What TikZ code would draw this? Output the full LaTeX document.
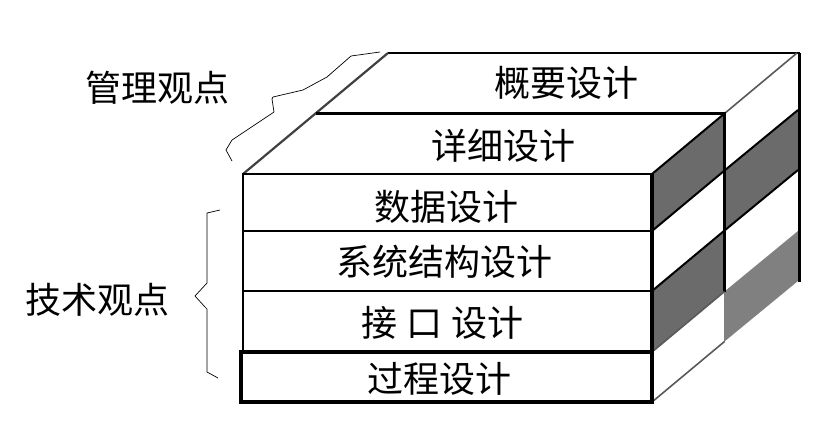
\documentclass[tikz,border=0pt]{standalone}
\usepackage{fontspec}
\newfontfamily\cjk{Noto Sans CJK SC}
\tikzset{
  lbl/.style={font=\cjk\fontsize{36}{40}\selectfont, inner sep=0pt},
  hatchface/.style={fill=black!58},
  solidface/.style={fill=black!50},
  edge/.style={line width=2.5pt, line join=miter},
  thinedge/.style={line width=1.6pt, draw=black!65},
  bracel/.style={line width=0.7pt, line join=round}
}
\begin{document}
\begin{tikzpicture}[x=1pt,y=-1pt]
\useasboundingbox (0,0) rectangle (835,445);

% ---- back box right face ----
\path[fill=white] (724.5,113.5) -- (798,53) -- (798,110) -- (724.5,170.5) -- cycle;
\path[hatchface] (724.5,170.5) -- (798,110) -- (798,170) -- (724.5,230.5) -- cycle;
\path[fill=white] (724.5,230.5) -- (798,170) -- (798,231) -- (724.5,291.5) -- cycle;
\path[solidface] (724.5,291.5) -- (798,231) -- (798,281) -- (724.5,341.5) -- cycle;

% ---- top face ----
\path[fill=white] (243,174) -- (652,174) -- (798,53) -- (388,53) -- cycle;

% ---- front box right face ----
\path[hatchface] (652,174) -- (724.5,113.5) -- (724.5,170.5) -- (652,231) -- cycle;
\path[fill=white] (652,231) -- (724.5,170.5) -- (724.5,230.5) -- (652,291) -- cycle;
\path[hatchface] (652,291) -- (724.5,230.5) -- (724.5,291.5) -- (652,352) -- cycle;
\path[fill=white] (652,352) -- (724.5,291.5) -- (724.5,341.5) -- (652,402) -- cycle;

% corner coordinates
\coordinate (TL) at (243,174);
\coordinate (TR) at (652,174);
\coordinate (TBL) at (388,53);
\coordinate (TBR) at (800,53);
\coordinate (MBL) at (315.5,113.5);
\coordinate (MBR) at (724.5,113.5);
\coordinate (BRtop) at (799,53);
\coordinate (BRbot) at (799,282);

% ---- edges ----
\draw[line width=2.8pt] (TBL) -- (TBR);
\draw[line width=3pt] (BRtop) -- (BRbot);
\draw[line width=2.2pt, draw=black!75] (TL) -- (TBL);
\draw[thinedge] (MBR) -- (797,53);
\draw[line width=2pt] (TR) -- (MBR);
\draw[line width=2.8pt] (MBL) -- (MBR) -- (724.5,291.5);
\draw[line width=0.6pt, draw=black!50] (724.5,291.5) -- (724.5,341.5);
% right face diagonals front box
\draw[line width=2pt] (652,231) -- (724.5,170.5);
\draw[line width=2pt] (652,291) -- (724.5,230.5);
\draw[thinedge] (652,352) -- (724.5,291.5);
\draw[thinedge] (652,402) -- (724.5,341.5);
% right face diagonals back box
\draw[line width=2pt] (724.5,170.5) -- (798,110);
\draw[line width=2pt] (724.5,230.5) -- (798,170);

% ---- front face ----
\draw[edge, fill=white] (243,174) rectangle (652,231);
\draw[edge, fill=white] (243,231) rectangle (652,291);
\draw[edge, fill=white] (243,291) rectangle (652,352);
\draw[line width=3.5pt, fill=white] (241,352) rectangle (652,402);
\draw[line width=3.5pt] (652,174) -- (652,402);

% ---- labels ----
\node[lbl] (gaiyao) at (566,83) {概要设计};
\node[lbl] (xiangxi) at (503,146) {详细设计};
\node[lbl] (shuju) at (446,207) {数据设计};
\node[lbl] (xitong) at (444,262) {系统结构设计};
\node[lbl] (jiekou) at (442,323) {接\hspace{9pt}口\hspace{9pt}设计};
\node[lbl] (guocheng) at (439,379) {过程设计};
\node[lbl] (guanli) at (157,88) {管理观点};
\node[lbl] (jishu) at (97,300) {技术观点};

% ---- braces ----
\draw[bracel] (380,52) -- (351,56) -- (327,77) -- (303,90) -- (273,97) -- (272,99) -- (274,112) -- (247,130) -- (232,140) -- (226,150) -- (232,161);
\draw[bracel] (220,210) -- (207,213) -- (207,283) -- (195,296) -- (205,307) -- (207,309) -- (207,372) -- (218,378);
\end{tikzpicture}
\end{document}
